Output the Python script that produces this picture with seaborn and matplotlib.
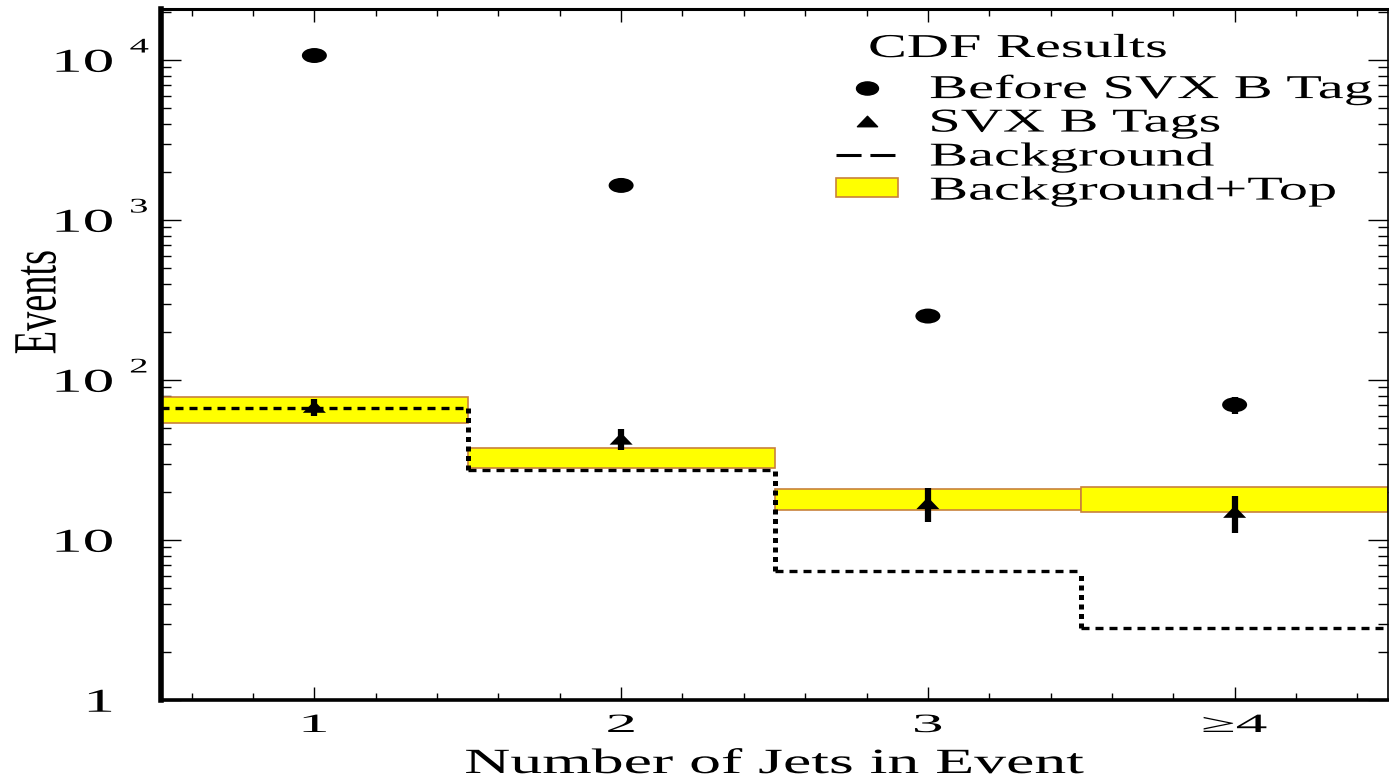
import numpy as np
import matplotlib
matplotlib.use("Agg")
import matplotlib.pyplot as plt
import matplotlib.patheffects as pe
import seaborn as sns
from matplotlib.path import Path
from matplotlib.patches import Patch
from matplotlib.lines import Line2D
from matplotlib.transforms import Affine2D
from matplotlib.ticker import FixedLocator, LogLocator, NullFormatter, MultipleLocator

# W + jets event counts per jet multiplicity
jet_bins = [1, 2, 3, 4]
jet_labels = ["1", "2", "3", "≥4"]
before_tag = [10670, 1645, 251, 70]
before_err = [103, 41, 16, 8.4]
svx_tags = [68, 43, 17, 15]
svx_err = [8.2, 6.6, 4.1, 3.9]
background = [66.5, 27.2, 6.4, 2.8]
bkg_top_low = [53.7, 28.0, 15.4, 15.0]
bkg_top_high = [78.6, 37.7, 20.7, 21.3]

# y-axis decade labels: base part and exponent
ytick_vals = [1, 10, 100, 1000, 10000]
ytick_base = ["1", "10", "10", "10", "10"]
ytick_exp = ["", "", "2", "3", "4"]

YELLOW = "#ffff00"
BAND_EDGE = "#c8813c"


class HStretch(pe.AbstractPathEffect):
    """Draw text glyphs widened horizontally around an anchor."""

    def __init__(self, sx, anchor="left"):
        super().__init__()
        self.sx = sx
        self.anchor = anchor

    def draw_path(self, renderer, gc, tpath, affine, rgbFace=None):
        ext = affine.transform_path(tpath).get_extents()
        x0 = {"left": ext.x0, "center": 0.5 * (ext.x0 + ext.x1), "right": ext.x1}[self.anchor]
        stretch = Affine2D().translate(-x0, 0).scale(self.sx, 1).translate(x0, 0)
        renderer.draw_path(gc, tpath, affine + stretch, rgbFace)


sns.set_theme(style="ticks", rc={
    "axes.edgecolor": "black", "xtick.color": "black", "ytick.color": "black",
    "text.color": "black", "axes.labelcolor": "black",
})
plt.rcParams["font.family"] = ["Liberation Serif", "DejaVu Serif"]

W, H = 1389, 782
AX_L, AX_R, AX_T, AX_B = 161, 1388, 9, 700
fig = plt.figure(figsize=(W / 100, H / 100), dpi=100)
ax = fig.add_axes([AX_L / W, 1 - AX_B / H, (AX_R - AX_L) / W, (AX_B - AX_T) / H])


def ax_frac(px, py):
    """Pixel position (from top-left of the figure) to axes fraction."""
    return (px - AX_L) / (AX_R - AX_L), (AX_B - py) / (AX_B - AX_T)


ax.set_yscale("log")
ax.set_xlim(0.5, 4.5)
ax.set_ylim(1, 20840)

# Background + top band
x = np.array(jet_bins, dtype=float)
low = np.array(bkg_top_low)
high = np.array(bkg_top_high)
ax.bar(x, high - low, bottom=low, width=1.0, color=YELLOW,
       edgecolor=BAND_EDGE, linewidth=1.2, zorder=2)

# Background histogram (dashed steps)
left_edges = x - 0.5
right_edges = x + 0.5
ax.hlines(background, left_edges, right_edges, colors="black", linewidth=2.4,
          linestyles=(0, (2.4, 1.8)), zorder=3)
ax.vlines(right_edges[:-1], background[1:], background[:-1], colors="black",
          linewidth=3.6, linestyles=(0, (1.0, 0.9)), zorder=3)

# Marker shapes
ellipse = Path(Path.unit_circle().vertices * [1.67, 1.0], Path.unit_circle().codes)
triangle = Path([(-1.0, -0.52), (1.0, -0.52), (0.0, 0.52), (-1.0, -0.52)],
                [Path.MOVETO, Path.LINETO, Path.LINETO, Path.CLOSEPOLY])

ax.errorbar(x, before_tag, yerr=before_err, fmt="none", ecolor="black",
            elinewidth=4.5, capsize=0, zorder=4)
ax.errorbar(x, svx_tags, yerr=svx_err, fmt="none", ecolor="black",
            elinewidth=4.5, capsize=0, zorder=4)
sns.scatterplot(x=jet_bins, y=before_tag, marker=ellipse, s=18.0 ** 2, color="black",
                edgecolor="none", linewidth=0, legend=False, ax=ax, zorder=5)
sns.scatterplot(x=jet_bins, y=svx_tags, marker=triangle, s=16.6 ** 2, color="black",
                edgecolor="none", linewidth=0, legend=False, ax=ax, zorder=5)

# Axes frame and ticks
ax.spines["left"].set_linewidth(4.0)
ax.spines["bottom"].set_linewidth(2.6)
ax.spines["top"].set_linewidth(2.2)
ax.spines["right"].set_linewidth(1.2)

ax.xaxis.set_major_locator(FixedLocator(jet_bins))
ax.xaxis.set_minor_locator(MultipleLocator(0.2))
ax.set_xticklabels(jet_labels)
ax.yaxis.set_major_locator(FixedLocator(ytick_vals))
ax.yaxis.set_minor_locator(LogLocator(base=10, subs=np.arange(2, 10)))
ax.yaxis.set_minor_formatter(NullFormatter())
ax.set_yticklabels(ytick_base)

ax.tick_params(which="both", direction="in", top=True, right=True, width=1.0)
ax.tick_params(axis="y", which="major", length=14.4, pad=34.5, labelsize=24)
ax.tick_params(axis="y", which="minor", length=7.2)
ax.tick_params(axis="x", which="major", length=9.4, pad=10.8, labelsize=19)
ax.tick_params(axis="x", which="minor", length=5.0)

for t in ax.get_yticklabels():
    t.set_path_effects([HStretch(1.9, "right")])
for t in ax.get_xticklabels():
    t.set_path_effects([HStretch(2.4, "center")])

for val, e in zip(ytick_vals, ytick_exp):
    if e:
        ax.annotate(e, xy=(0, val), xycoords=("axes fraction", "data"),
                    xytext=(-31 * 0.72, 12 * 0.72), textcoords="offset points",
                    ha="left", va="center", fontsize=15,
                    path_effects=[HStretch(1.85, "left")])

xl = ax.set_xlabel("Number of Jets in Event", fontsize=25.5)
ax.xaxis.set_label_coords(0.5, ax_frac(0, 748)[1])
xl.set_path_effects([HStretch(1.8, "center")])
yl = ax.set_ylabel("Events", fontsize=27.6)
ax.yaxis.set_label_coords(ax_frac(56, 0)[0], ax_frac(0, 302)[1])
yl.set_path_effects([HStretch(1.6, "center")])

# Legend
F = 24
handles = [
    Line2D([], [], marker=ellipse, markersize=15.8, color="black", linestyle="none"),
    Line2D([], [], marker=triangle, markersize=14.5, color="black", linestyle="none"),
    Line2D([], [], color="black", linewidth=2.2, linestyle=(0, (8.2, 2.9))),
    Patch(facecolor=YELLOW, edgecolor=BAND_EDGE, linewidth=1.2),
]
labels = ["Before SVX B Tag", "SVX B Tags", "Background", "Background+Top"]
leg = ax.legend(handles, labels, loc="upper left", bbox_to_anchor=(836 / W, 1 - 74 / H),
                bbox_transform=fig.transFigure, frameon=False, fontsize=F,
                borderpad=0, borderaxespad=0, handlelength=44.6 / F,
                handleheight=11.5 / F, handletextpad=0.96, labelspacing=0.09)
for t in leg.get_texts():
    t.set_path_effects([HStretch(1.75, "left")])

tx, ty = ax_frac(869, 57)
title = ax.text(tx, ty, "CDF Results", transform=ax.transAxes,
                ha="left", va="baseline", fontsize=F)
title.set_path_effects([HStretch(1.75, "left")])

fig.savefig("out.png", dpi=100)
